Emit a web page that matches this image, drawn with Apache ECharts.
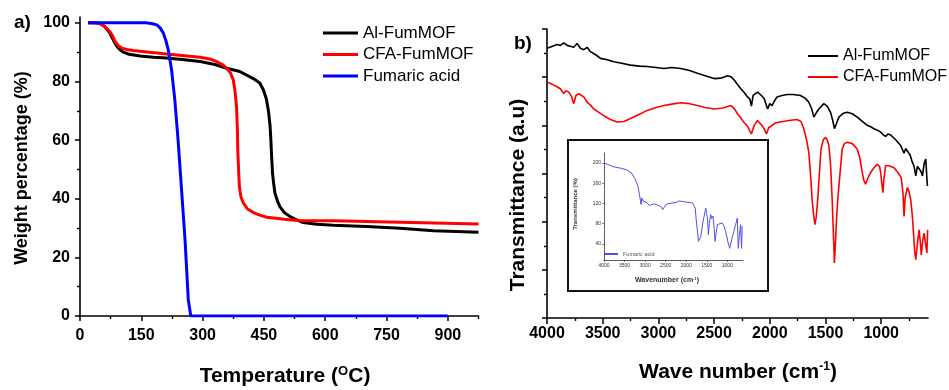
<!DOCTYPE html>
<html><head><meta charset="utf-8">
<script src="https://cdn.jsdelivr.net/npm/echarts@6/dist/echarts.min.js"></script>
<style>html,body{margin:0;padding:0;background:#fff}#c{width:949px;height:390px}</style>
</head><body><div id="c"></div><script>
// ---------- Panel a: TGA ----------
const alT = [20,35,50,60,73,82,90,98,106,120,147,180,212,250,294,330,359,391,424,440,449,456,461,465,467,469,471,474,477,483,489,500,514,530,546,580,620,701,783,865,975];
const alW = [100,100,99.8,98.8,96.5,94,92,90.8,90,89.3,88.7,88.3,88,87.5,86.8,85.8,84.5,83.4,81,79.5,77,74,70,65,60,54,48.7,45,41.9,39.3,37.3,35.3,33.9,32.8,31.9,31.3,31,30.5,29.9,29.1,28.6];
const cfT = [20,40,49,60,73,80,86,94,102,115,130,170,212,250,294,320,334,348,359,368,375,379,383,385,386,388,390,394,400,410,424,440,457,500,538,620,783,975];
const cfW = [100,100,99.7,98.8,97,95.5,93.6,92.2,91.4,90.9,90.6,90,89.4,88.9,88.3,87.6,86.8,85.8,84.5,83,80.5,77,71.4,64,56.7,50,44,40.5,38.5,36.5,35.3,34.4,33.7,33,32.5,32.5,32,31.4];
const faT = [20,100,160,175,188,196,204,210,216,224,232,240,248,257,265,271,900];
const faW = [100,100,100,99.8,99.3,98.3,96.5,94,90.8,84,73.7,60,44,26,5.5,0,0];
const tempLabels = [0,150,300,450,600,750,900];
const tempMinor = [75,225,375,525,675,825,975];
const weightLabels = [0,20,40,60,80,100];
const weightMinor = [10,30,50,70,90];

// ---------- Panel b: FTIR ----------
const alWn = [4000,3985,3950,3910,3880,3850,3820,3790,3760,3730,3700,3670,3640,3610,3560,3520,3460,3400,3330,3250,3170,3100,3020,2950,2880,2800,2720,2650,2580,2500,2440,2380,2350,2320,2290,2260,2230,2200,2180,2165,2150,2140,2110,2080,2050,2035,2020,2000,1980,1960,1935,1890,1845,1790,1725,1680,1650,1625,1605,1585,1560,1515,1485,1455,1435,1420,1400,1380,1340,1305,1260,1215,1170,1125,1095,1065,1035,1005,980,960,940,915,870,825,810,795,780,765,740,720,705,690,675,660,645,630,615,600,590,585];
const alTr = [5.60,5.60,5.64,5.68,5.66,5.71,5.66,5.64,5.62,5.70,5.60,5.57,5.62,5.53,5.46,5.39,5.36,5.32,5.29,5.25,5.23,5.22,5.20,5.18,5.20,5.18,5.14,5.08,5.03,4.97,4.98,5.03,5.01,4.94,4.85,4.76,4.68,4.59,4.55,4.40,4.62,4.64,4.69,4.63,4.55,4.45,4.34,4.45,4.41,4.50,4.59,4.62,4.64,4.64,4.62,4.56,4.48,4.35,4.17,4.25,4.34,4.45,4.40,4.27,4.10,3.93,4.05,4.17,4.25,4.27,4.24,4.17,4.08,4.00,3.97,3.93,3.90,3.86,3.80,3.77,3.82,3.80,3.70,3.58,3.50,3.42,3.52,3.50,3.38,3.23,3.15,2.95,3.15,3.19,3.05,2.95,3.20,3.30,2.90,2.74];
const cfWn = [4000,3960,3910,3880,3850,3830,3805,3780,3760,3740,3715,3690,3670,3640,3610,3580,3540,3490,3430,3370,3310,3250,3170,3100,3020,2950,2880,2800,2720,2650,2580,2500,2420,2350,2320,2290,2260,2235,2200,2165,2140,2110,2090,2070,2050,2030,2010,1995,1950,1905,1830,1755,1720,1695,1670,1650,1635,1620,1605,1595,1583,1570,1555,1540,1520,1500,1485,1470,1455,1440,1430,1420,1410,1400,1390,1370,1350,1330,1305,1260,1215,1190,1170,1155,1140,1120,1095,1065,1035,1015,1005,995,985,975,960,930,885,850,820,805,795,785,765,750,735,720,710,700,690,675,660,650,640,628,615,600,590,583];
const cfTr = [4.90,4.86,4.80,4.76,4.66,4.72,4.69,4.60,4.45,4.62,4.66,4.62,4.59,4.48,4.42,4.34,4.28,4.20,4.12,4.07,4.08,4.14,4.23,4.31,4.37,4.41,4.44,4.47,4.45,4.41,4.37,4.34,4.36,4.41,4.35,4.24,4.15,4.07,3.98,3.82,4.00,4.10,4.05,4.00,3.92,3.82,3.95,3.96,4.05,4.07,4.10,4.12,4.08,3.93,3.70,3.44,3.00,2.46,2.10,1.94,2.10,2.46,3.00,3.51,3.70,3.75,3.70,3.58,3.20,2.46,1.80,1.14,1.60,2.10,2.46,3.00,3.51,3.62,3.65,3.62,3.51,3.30,3.02,2.85,2.78,2.90,3.02,3.12,3.19,3.15,3.02,2.80,2.60,2.90,3.16,3.16,3.12,3.02,2.91,2.60,2.11,2.50,2.71,2.62,2.46,2.10,1.76,1.40,1.21,1.55,1.83,1.60,1.31,1.60,1.76,1.50,1.35,1.83];
const wnLabels = [4000,3500,3000,2500,2000,1500,1000];
const wnMinor = [3750,3250,2750,2250,1750,1250,750];

// ---------- Inset: fumaric acid FTIR ----------
const inWn = [4000,3900,3782,3600,3460,3339,3258,3178,3138,3113,3097,3081,3060,3017,2950,2896,2840,2775,2700,2654,2600,2573,2540,2493,2420,2332,2250,2170,2090,2009,1930,1848,1800,1783,1760,1703,1646,1590,1526,1505,1485,1461,1440,1405,1380,1348,1320,1300,1275,1244,1180,1123,1080,1042,990,945,890,840,800,759,735,710,679,655,640];
const inTr = [200,197,193,190,187,181,171,155,138,125,118,131,126,125,121,116,118,119,117,115,113,108,112,118,120,121,122,125,124,123,122,121,120,111,90,45,55,85,111,100,91,58,80,98,90,95,70,45,60,78,80,81,75,65,45,31,50,65,78,91,31,55,78,31,75];
const inXLabels = [4000,3500,3000,2500,2000,1500,1000];
const inYLabels = [40,80,120,160,200];

const zip = (a, b) => a.slice(0, Math.min(a.length, b.length)).map((v, i) => [v, b[i]]);
const FONT = '"Liberation Sans", Arial, Helvetica, sans-serif';
const K = '#000';
const plain = v => String(v);

function majorAxis(extra) {
  return Object.assign({
    type: 'value',
    splitLine: {show: false},
    axisLine: {show: true, onZero: false, lineStyle: {color: K, width: 1.6}},
    axisTick: {show: true, inside: false, length: 5, lineStyle: {color: K, width: 1.5}},
    axisLabel: {show: true, color: K, fontFamily: FONT, fontWeight: 'bold', fontSize: 16, formatter: plain}
  }, extra);
}
function minorAxis(extra, vals) {
  return Object.assign({
    type: 'value',
    splitLine: {show: false},
    axisLine: {show: true, onZero: false, lineStyle: {color: 'rgba(0,0,0,0)', width: 0}},
    axisTick: {show: true, length: 3, customValues: vals, lineStyle: {color: K, width: 1.4}},
    axisLabel: {show: false}
  }, extra);
}

const option = {
  animation: false,
  backgroundColor: '#fff',
  grid: [
    {left: 80, top: 17, width: 398.5, height: 299},
    {left: 547, top: 29, width: 381, height: 289},
    {left: 604, top: 153, width: 139, height: 107}
  ],
  xAxis: [
    majorAxis({gridIndex: 0, min: 0, max: 975, position: 'bottom',
      axisTick: {show: true, length: 5, customValues: tempLabels, lineStyle: {color: K, width: 1.5}},
      axisLabel: {show: true, customValues: tempLabels, margin: 12, color: K, fontFamily: FONT, fontWeight: 'bold', fontSize: 16, formatter: plain}}),
    minorAxis({gridIndex: 0, min: 0, max: 975, position: 'bottom'}, tempMinor),
    majorAxis({gridIndex: 1, min: 580, max: 4000, inverse: true, position: 'bottom',
      axisTick: {show: true, length: 6, customValues: wnLabels, lineStyle: {color: K, width: 1.5}},
      axisLabel: {show: true, customValues: wnLabels, margin: 8, color: K, fontFamily: FONT, fontWeight: 'bold', fontSize: 16, formatter: plain}}),
    minorAxis({gridIndex: 1, min: 580, max: 4000, inverse: true, position: 'bottom'}, wnMinor),
    {type: 'value', gridIndex: 2, min: 620, max: 4000, inverse: true, splitLine: {show: false},
      axisLine: {show: true, onZero: false, lineStyle: {color: '#333', width: 0.8}},
      axisTick: {show: true, length: 2, customValues: inXLabels, lineStyle: {color: '#333', width: 0.6}},
      axisLabel: {show: true, customValues: inXLabels, margin: 3, color: '#333', fontFamily: FONT, fontSize: 5, formatter: plain}}
  ],
  yAxis: [
    majorAxis({gridIndex: 0, min: 0, max: 102, position: 'left',
      axisTick: {show: true, length: 5, customValues: weightLabels, lineStyle: {color: K, width: 1.5}},
      axisLabel: {show: true, customValues: weightLabels, margin: 10, color: K, fontFamily: FONT, fontWeight: 'bold', fontSize: 16, formatter: plain}}),
    minorAxis({gridIndex: 0, min: 0, max: 102, position: 'left'}, weightMinor),
    majorAxis({gridIndex: 1, min: 0, max: 6, interval: 1, position: 'left',
      axisLabel: {show: false},
      minorTick: {show: true, splitNumber: 2, length: 3, lineStyle: {color: K, width: 1.4}}}),
    {type: 'value', gridIndex: 2, min: 8, max: 220, position: 'left', splitLine: {show: false},
      axisLine: {show: true, onZero: false, lineStyle: {color: '#333', width: 0.8}},
      axisTick: {show: true, length: 2, customValues: inYLabels, lineStyle: {color: '#333', width: 0.6}},
      axisLabel: {show: true, customValues: inYLabels, margin: 3, color: '#333', fontFamily: FONT, fontSize: 5, formatter: plain}}
  ],
  legend: [
    {data: ['Al-FumMOF', 'CFA-FumMOF', 'Fumaric acid'], orient: 'vertical', left: 323, top: 23, padding: 0,
      icon: 'rect', itemWidth: 35, itemHeight: 3, itemGap: 1.5, selectedMode: false,
      textStyle: {fontFamily: FONT, fontSize: 17, color: K, lineHeight: 20}},
    {data: ['Al-FumMOF', 'CFA-FumMOF'], orient: 'vertical', left: 808, top: 46, padding: 0,
      icon: 'rect', itemWidth: 30, itemHeight: 2, itemGap: 1, selectedMode: false,
      textStyle: {fontFamily: FONT, fontSize: 16, color: K, lineHeight: 20}},
    {data: [{name: 'Fumaric acid', itemStyle: {color: '#5050e6'}}], left: 605, top: 251, padding: 0,
      icon: 'rect', itemWidth: 13, itemHeight: 2, selectedMode: false,
      textStyle: {fontFamily: FONT, fontSize: 5.5, color: '#555'}}
  ],
  graphic: [
    {type: 'text', x: 14, y: 23, style: {text: 'a)', font: 'bold 19px ' + FONT, fill: K, textVerticalAlign: 'middle'}},
    {type: 'text', x: 514, y: 44, style: {text: 'b)', font: 'bold 19px ' + FONT, fill: K, textVerticalAlign: 'middle'}},
    {type: 'text', x: 22, y: 168, rotation: Math.PI / 2,
      style: {text: 'Weight percentage (%)', font: 'bold 18px ' + FONT, fill: K, textAlign: 'center', textVerticalAlign: 'middle'}},
    {type: 'text', x: 285, y: 376,
      style: {text: 'Temperature ({sup|O}C)', font: 'bold 21px ' + FONT, fill: K, textAlign: 'center', textVerticalAlign: 'middle',
        rich: {sup: {fontSize: 13, fontWeight: 'bold', fontFamily: FONT, verticalAlign: 'top', padding: [0, 0, 10, 0]}}}},
    {type: 'text', x: 518, y: 195, rotation: Math.PI / 2,
      style: {text: 'Transmittance (a.u)', font: 'bold 21px ' + FONT, fill: K, textAlign: 'center', textVerticalAlign: 'middle'}},
    {type: 'text', x: 738, y: 372,
      style: {text: 'Wave number (cm{sup|-1})', font: 'bold 21px ' + FONT, fill: K, textAlign: 'center', textVerticalAlign: 'middle',
        rich: {sup: {fontSize: 12, fontWeight: 'bold', fontFamily: FONT, verticalAlign: 'top', padding: [0, 0, 10, 0]}}}},
    {type: 'rect', shape: {x: 568, y: 140, width: 200, height: 151}, style: {fill: 'none', stroke: '#111', lineWidth: 2}},
    {type: 'text', x: 575, y: 204, rotation: Math.PI / 2,
      style: {text: 'Transmittance (%)', font: 'bold 6px ' + FONT, fill: '#333', textAlign: 'center', textVerticalAlign: 'middle'}},
    {type: 'text', x: 667, y: 280,
      style: {text: 'Wavenumber (cm{sup|-1})', font: 'bold 7px ' + FONT, fill: '#333', textAlign: 'center', textVerticalAlign: 'middle',
        rich: {sup: {fontSize: 4, fontWeight: 'bold', fontFamily: FONT, verticalAlign: 'top'}}}}
  ],
  series: [
    {name: 'Al-FumMOF', type: 'line', xAxisIndex: 0, yAxisIndex: 0, data: zip(alT, alW), showSymbol: false,
      lineStyle: {color: '#000', width: 3}, itemStyle: {color: '#000'}},
    {name: 'CFA-FumMOF', type: 'line', xAxisIndex: 0, yAxisIndex: 0, data: zip(cfT, cfW), showSymbol: false,
      lineStyle: {color: '#ff0000', width: 3}, itemStyle: {color: '#ff0000'}},
    {name: 'Fumaric acid', type: 'line', xAxisIndex: 0, yAxisIndex: 0, data: zip(faT, faW), showSymbol: false,
      lineStyle: {color: '#0000ff', width: 3}, itemStyle: {color: '#0000ff'}},
    {name: 'Al-FumMOF', type: 'line', xAxisIndex: 2, yAxisIndex: 2, data: zip(alWn, alTr), showSymbol: false,
      lineStyle: {color: '#000', width: 1.6}, itemStyle: {color: '#000'}},
    {name: 'CFA-FumMOF', type: 'line', xAxisIndex: 2, yAxisIndex: 2, data: zip(cfWn, cfTr), showSymbol: false,
      lineStyle: {color: '#ff0000', width: 1.6}, itemStyle: {color: '#ff0000'}},
    {name: 'Fumaric acid', type: 'line', xAxisIndex: 4, yAxisIndex: 3, data: zip(inWn, inTr), showSymbol: false,
      lineStyle: {color: '#5050e6', width: 1}, itemStyle: {color: '#5050e6'}}
  ]
};
const chart = echarts.init(document.getElementById('c'), null, {renderer: 'canvas'});
chart.setOption(option);
</script></body></html>
